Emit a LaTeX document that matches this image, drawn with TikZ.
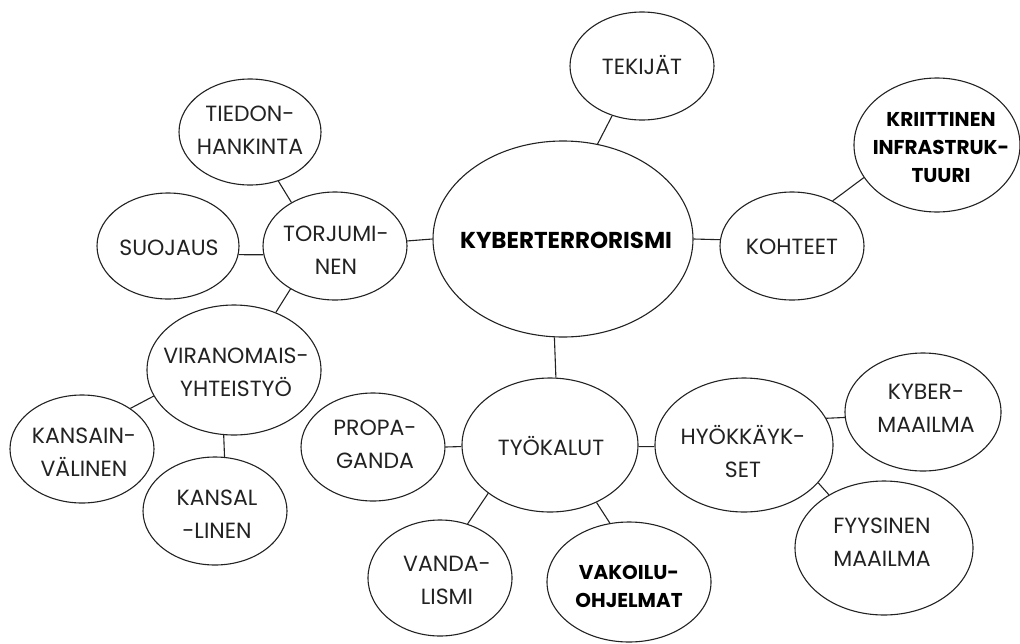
\documentclass[tikz,border=0pt]{standalone}
\usepackage{fontspec}
\setmainfont{Poppins}
\usetikzlibrary{shapes.geometric}
\definecolor{ink}{HTML}{222222}
\tikzset{
  ell/.style={ellipse, draw=ink, line width=1.1pt, inner sep=0pt},
  txt/.style={align=center, inner sep=0pt, text=ink, font=\fontsize{22}{33}\selectfont},
  btxt/.style={align=center, inner sep=0pt, text=black, font=\fontsize{20}{28}\selectfont\bfseries},
  conn/.style={draw=ink, line width=1.1pt}
}
\begin{document}
\begin{tikzpicture}[x=1pt,y=-1pt]
\useasboundingbox (0,0) rectangle (1020,643);
% ellipses
\node[ell, minimum width=260pt, minimum height=196pt] (main) at (563,239) {};
\node[ell, minimum width=144pt, minimum height=108pt] (tek) at (642,66) {};
\node[ell, minimum width=144pt, minimum height=108pt] (koh) at (792,246) {};
\node[ell, minimum width=166pt, minimum height=134pt] (krit) at (937,145) {};
\node[ell, minimum width=144pt, minimum height=108pt] (torj) at (335,246) {};
\node[ell, minimum width=142pt, minimum height=106pt] (tied) at (250,132) {};
\node[ell, minimum width=142pt, minimum height=106pt] (suoj) at (168,246) {};
\node[ell, minimum width=174pt, minimum height=130pt] (vir) at (234,370) {};
\node[ell, minimum width=144pt, minimum height=108pt] (kansv) at (82,449) {};
\node[ell, minimum width=144pt, minimum height=108pt] (kansl) at (215,511) {};
\node[ell, minimum width=176pt, minimum height=134pt] (tyok) at (550,445) {};
\node[ell, minimum width=144pt, minimum height=108pt] (prop) at (373,447) {};
\node[ell, minimum width=144pt, minimum height=116pt] (vand) at (440,578) {};
\node[ell, minimum width=164pt, minimum height=120pt] (vak) at (629,582) {};
\node[ell, minimum width=178pt, minimum height=134pt] (hyok) at (744,445) {};
\node[ell, minimum width=156pt, minimum height=118pt] (kyb) at (923,412) {};
\node[ell, minimum width=178pt, minimum height=134pt] (fyys) at (884,548) {};
% texts
\node[btxt, font=\fontsize{23}{28}\selectfont\bfseries] (tmain) at (566,240) {KYBERTERRORISMI};
\node[txt] (ttek) at (642,65) {TEKIJÄT};
\node[txt] (tkoh) at (792,247) {KOHTEET};
\node[btxt] (tkrit) at (941,148) {KRIITTINEN\\INFRASTRUK-\\TUURI};
\node[txt] (ttorj) at (336,250) {TORJUMI-\\NEN};
\node[txt] (ttied) at (250,130) {TIEDON-\\HANKINTA};
\node[txt] (tsuoj) at (169,248) {SUOJAUS};
\node[txt] (tvir) at (236,372) {VIRANOMAIS-\\YHTEISTYÖ};
\node[txt] (tkansv) at (84,452) {KANSAIN-\\VÄLINEN};
\node[txt] (tkansl) at (217,514) {KANSAL\\-LINEN};
\node[txt] (ttyok) at (551,446) {TYÖKALUT};
\node[txt] (tprop) at (375,444) {PROPA-\\GANDA};
\node[txt] (tvand) at (447,580) {VANDA-\\LISMI};
\node[btxt] (tvak) at (629,586) {VAKOILU-\\OHJELMAT};
\node[txt] (thyok) at (743,451) {HYÖKKÄYK-\\SET};
\node[txt] (tkyb) at (926,408) {KYBER-\\MAAILMA};
\node[txt] (tfyys) at (882,542) {FYYSINEN\\MAAILMA};
% connectors
\draw[conn] (tek.239) -- (main.70.5);
\draw[conn] (main.-0.4) -- (koh.175);
\draw[conn] (koh.48.9) -- (krit.204);
\draw[conn] (main.180) -- (torj.4.8);
\draw[conn] (torj.135.6) -- (tied.-60.8);
\draw[conn] (torj.187) -- (suoj.-7);
\draw[conn] (torj.224.4) -- (vir.54);
\draw[conn] (vir.198) -- (kansv.40.5);
\draw[conn] (vir.261) -- (kansl.80.5);
\draw[conn] (main.265) -- (tyok.85.7);
\draw[conn] (tyok.181.3) -- (prop.0);
\draw[conn] (tyok.-1.3) -- (hyok.181);
\draw[conn] (tyok.218.9) -- (vand.63.4);
\draw[conn] (tyok.-51) -- (vak.108.4);
\draw[conn] (hyok.18) -- (kyb.184.4);
\draw[conn] (hyok.-27) -- (fyys.136.6);
\end{tikzpicture}
\end{document}
